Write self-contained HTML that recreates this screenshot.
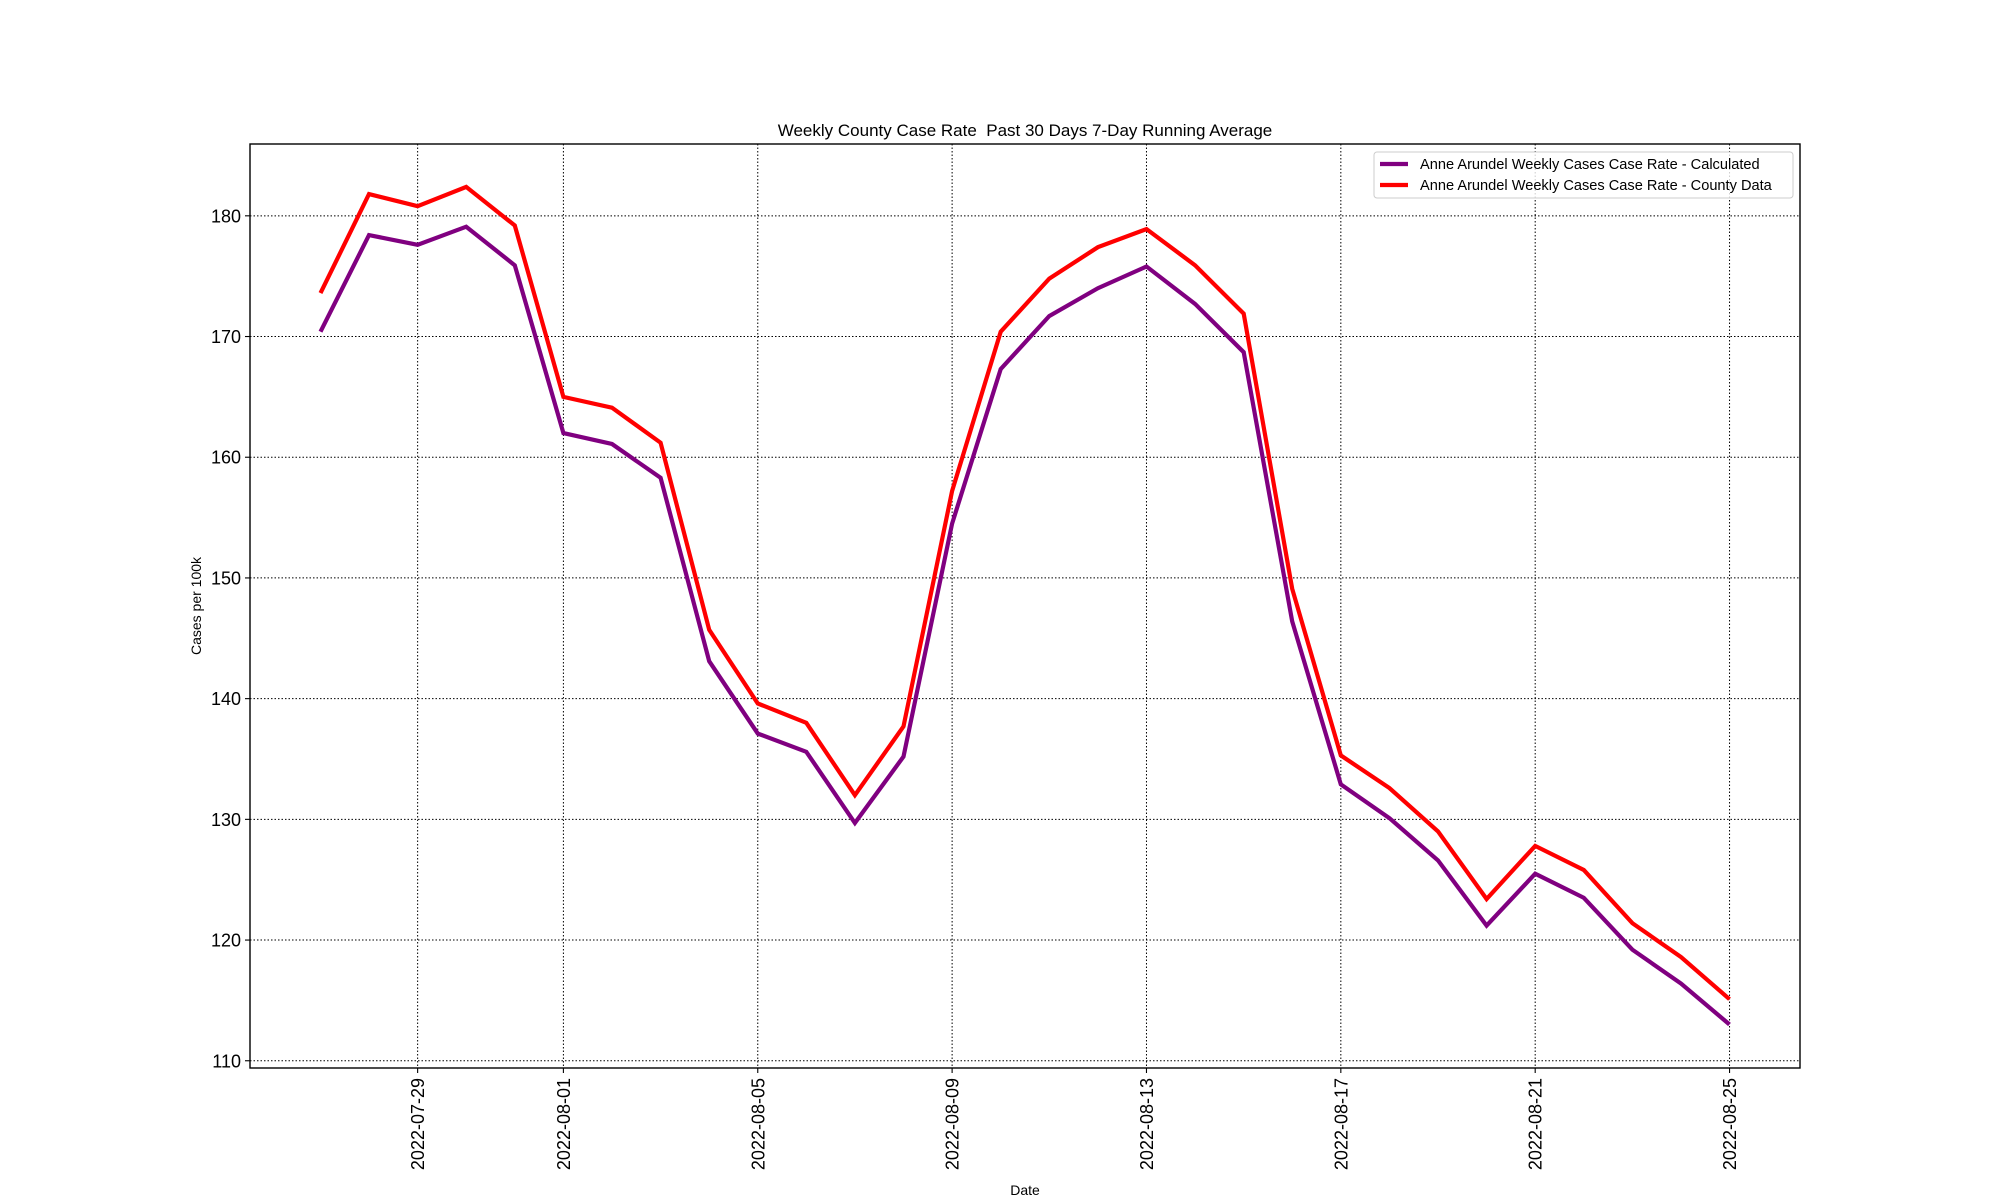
<!DOCTYPE html>
<html><head><meta charset="utf-8"><style>
html,body{margin:0;padding:0;background:#fff;}
svg{display:block;font-family:"Liberation Sans","DejaVu Sans",sans-serif;}
</style></head><body>
<svg id="chart" width="2000" height="1200" viewBox="0 0 2000 1200" xmlns="http://www.w3.org/2000/svg">
<rect width="2000" height="1200" fill="#fff"/>
<g id="grid"></g>
<g id="series"></g>
<rect x="250" y="144" width="1550" height="924" fill="none" stroke="#000" stroke-width="1.4"/>
<g id="ticks"></g>
<text x="1025" y="136" font-size="17" text-anchor="middle" style="white-space:pre">Weekly County Case Rate  Past 30 Days 7-Day Running Average</text>
<text x="1025" y="1195" font-size="14" text-anchor="middle">Date</text>
<text transform="translate(201,606) rotate(-90)" font-size="14" text-anchor="middle">Cases per 100k</text>
<g>
<rect x="1374" y="152" width="419" height="46" rx="3" fill="#fff" fill-opacity="0.8" stroke="#ccc" stroke-width="1"/>
<line x1="1380" y1="164" x2="1408" y2="164" stroke="#800080" stroke-width="4.2"/>
<text x="1420" y="169" font-size="14.6">Anne Arundel Weekly Cases Case Rate - Calculated</text>
<line x1="1380" y1="185" x2="1408" y2="185" stroke="#ff0000" stroke-width="4.2"/>
<text x="1420" y="190" font-size="14.6">Anne Arundel Weekly Cases Case Rate - County Data</text>
</g>
</svg>
<script>
const dayOffsets = Array.from({length:30},(_,i)=>i); // days since 2022-07-27
const calculated = [170.4,178.4,177.6,179.1,175.9,162.0,161.1,158.3,143.1,137.1,135.6,129.7,135.2,154.5,167.3,171.7,174.0,175.8,172.7,168.7,146.4,132.9,130.1,126.6,121.2,125.5,123.5,119.2,116.4,113.0];
const countyData = [173.6,181.8,180.8,182.4,179.2,165.0,164.1,161.2,145.7,139.6,138.0,132.0,137.7,157.2,170.4,174.8,177.4,178.9,175.9,171.9,149.1,135.3,132.6,129.0,123.4,127.8,125.8,121.4,118.6,115.1];
const xTickDays = [2,5,9,13,17,21,25,29];
const xTickLabels = ["2022-07-29","2022-08-01","2022-08-05","2022-08-09","2022-08-13","2022-08-17","2022-08-21","2022-08-25"];
const yTicks = [110,120,130,140,150,160,170,180];

const L=250,R=1800,T=144,B=1068;
const xmin=-1.45,xmax=30.45,ymin=109.4,ymax=185.95;
const xs=d=>L+(d-xmin)/(xmax-xmin)*(R-L);
const ys=v=>B-(v-ymin)/(ymax-ymin)*(B-T);
const NS="http://www.w3.org/2000/svg";
function mk(tag,attrs,parent){const e=document.createElementNS(NS,tag);for(const k in attrs)e.setAttribute(k,attrs[k]);parent.appendChild(e);return e;}
const grid=document.getElementById('grid'),ticks=document.getElementById('ticks'),series=document.getElementById('series');
xTickDays.forEach((d,i)=>{
  const x=xs(d);
  const g=mk('line',{x1:x,y1:T,x2:x,y2:B,stroke:'#000','stroke-width':1,'stroke-dasharray':'1.5,2'},grid);
  
  
  const t=mk('line',{x1:x,y1:B,x2:x,y2:B+5,stroke:'#000','stroke-width':1.1},ticks);
  
  
  const lb=mk('text',{transform:`translate(${x+6.5},${B+10}) rotate(-90)`,'font-size':18,'text-anchor':'end'},ticks);
  lb.textContent=xTickLabels[i];
  
  
});
yTicks.forEach(v=>{
  const y=ys(v);
  const g=mk('line',{x1:L,y1:y,x2:R,y2:y,stroke:'#000','stroke-width':1,'stroke-dasharray':'1.5,2'},grid);
  
  
  const t=mk('line',{x1:L-5,y1:y,x2:L,y2:y,stroke:'#000','stroke-width':1.1},ticks);
  
  
  const lb=mk('text',{x:L-9,y:y+6.5,'font-size':18,'text-anchor':'end'},ticks);
  lb.textContent=v;
  
  
});
function line(vals,color,name){
  const pts=vals.map((v,i)=>xs(dayOffsets[i]).toFixed(1)+','+ys(v).toFixed(1)).join(' ');
  const p=mk('polyline',{points:pts,fill:'none',stroke:color,'stroke-width':4.2,'stroke-linejoin':'miter'},series);
  
  
}
line(calculated,'#800080','line-calculated');
line(countyData,'#ff0000','line-county-data');
</script>
</body></html>
